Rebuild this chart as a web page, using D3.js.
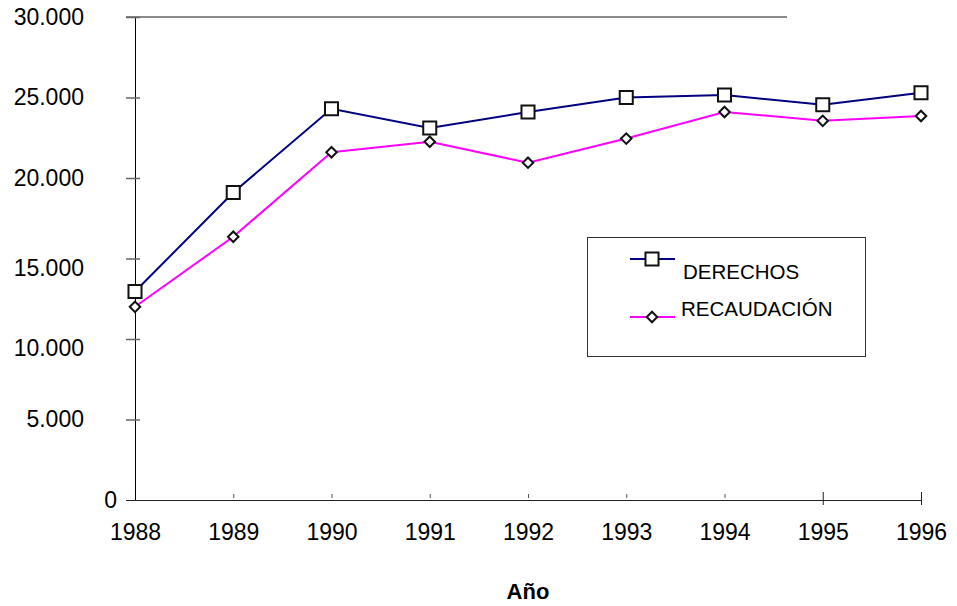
<!DOCTYPE html>
<html>
<head>
<meta charset="utf-8">
<script src="https://cdn.jsdelivr.net/npm/d3@7"></script>
<style>
  body { margin: 0; background: #fff; }
  svg { display: block; font-family: "Liberation Sans", Arial, sans-serif; }
</style>
</head>
<body>
<svg id="chart" width="957" height="606"></svg>
<script>
const years = ["1988","1989","1990","1991","1992","1993","1994","1995","1996"];
const derechos = [12950, 19100, 24300, 23100, 24100, 25000, 25150, 24550, 25300];
const recaudacion = [12000, 16350, 21600, 22250, 20950, 22450, 24100, 23550, 23850];
const yTicks = [0, 5000, 10000, 15000, 20000, 25000, 30000];
const seriesNames = ["DERECHOS", "RECAUDACIÓN"];

const svg = d3.select("#chart");

const x = d3.scalePoint().domain(years).range([135, 921]);
const y = d3.scaleLinear().domain([0, 30000]).range([500, 17]);

const es = d3.formatLocale({decimal: ",", thousands: ".", grouping: [3], currency: ["", ""]});
const fmt = es.format(",");

// top gray border (partial, like the original)
svg.append("line")
  .attr("x1", 126).attr("x2", 787)
  .attr("y1", y(30000)).attr("y2", y(30000))
  .attr("stroke", "#8a8a8a").attr("stroke-width", 2);

// y axis
const yAxis = svg.append("g")
  .attr("transform", "translate(135,0)")
  .call(d3.axisLeft(y).tickValues(yTicks).tickFormat(fmt).tickSize(0).tickPadding(51));
yAxis.select(".domain").attr("stroke", "#000");
yAxis.selectAll("text").attr("font-size", 23).attr("fill", "#000");
yAxis.selectAll(".tick").filter(d => d === 0).select("text").attr("x", -18);
yAxis.selectAll(".tick").filter(d => d === 10000 || d === 15000).select("text").attr("dy", "0.72em");
yAxis.selectAll(".tick").filter(d => d !== 0).append("line")
  .attr("x1", -9).attr("x2", 5).attr("stroke", "#666").attr("stroke-width", 1.5);

// x axis
const xAxis = svg.append("g")
  .attr("transform", "translate(0,500)")
  .call(d3.axisBottom(x).tickSize(0).tickPadding(24));
xAxis.select(".domain").attr("d", "M126,0.5H921").attr("stroke", "#222");
xAxis.selectAll("text").attr("font-size", 23).attr("fill", "#000");
xAxis.selectAll(".tick").filter((d, i) => i > 0).append("line")
  .attr("y1", (d, i) => i >= 6 ? -8 : -6)
  .attr("y2", (d, i) => i >= 6 ? 5 : -2)
  .attr("stroke", (d, i) => i >= 6 ? "#222" : "#555");

svg.append("text")
  .attr("x", 528).attr("y", 599)
  .attr("text-anchor", "middle")
  .attr("font-size", 22).attr("font-weight", "bold")
  .text("Año");

// lines
const line = d3.line().x((d, i) => x(years[i])).y(d => y(d));

svg.append("path").datum(derechos)
  .attr("fill", "none").attr("stroke", "#000080").attr("stroke-width", 2)
  .attr("d", line);
svg.append("path").datum(recaudacion)
  .attr("fill", "none").attr("stroke", "#ff00ff").attr("stroke-width", 2)
  .attr("d", line);

const square = d3.symbol().type(d3.symbolSquare).size(170);
const diamond = d3.symbol().type(d3.symbolSquare).size(55);

svg.append("g").selectAll("path")
  .data(derechos).join("path")
  .attr("transform", (d, i) => `translate(${x(years[i])},${y(d)})`)
  .attr("d", square)
  .attr("fill", "#fff").attr("stroke", "#111").attr("stroke-width", 2);

svg.append("g").selectAll("path")
  .data(recaudacion).join("path")
  .attr("transform", (d, i) => `translate(${x(years[i])},${y(d)}) rotate(45)`)
  .attr("d", diamond)
  .attr("fill", "#fff").attr("stroke", "#111").attr("stroke-width", 2);

// legend
const legend = svg.append("g");
legend.append("rect")
  .attr("x", 587.5).attr("y", 237.5).attr("width", 278).attr("height", 119)
  .attr("fill", "#fff").attr("stroke", "#333").attr("stroke-width", 1);

legend.append("line").attr("x1", 630).attr("x2", 675).attr("y1", 259).attr("y2", 259)
  .attr("stroke", "#000080").attr("stroke-width", 2);
legend.append("path").attr("transform", "translate(652,259)").attr("d", square)
  .attr("fill", "#fff").attr("stroke", "#111").attr("stroke-width", 2);
legend.append("text").attr("x", 683).attr("y", 279).attr("font-size", 20.5).attr("fill", "#000")
  .text(seriesNames[0]);

legend.append("line").attr("x1", 630).attr("x2", 675).attr("y1", 317).attr("y2", 317)
  .attr("stroke", "#ff00ff").attr("stroke-width", 2);
legend.append("path").attr("transform", "translate(652,317) rotate(45)").attr("d", diamond)
  .attr("fill", "#fff").attr("stroke", "#111").attr("stroke-width", 2);
legend.append("text").attr("x", 681).attr("y", 316).attr("font-size", 20.5).attr("fill", "#000")
  .text(seriesNames[1]);
</script>
</body>
</html>
